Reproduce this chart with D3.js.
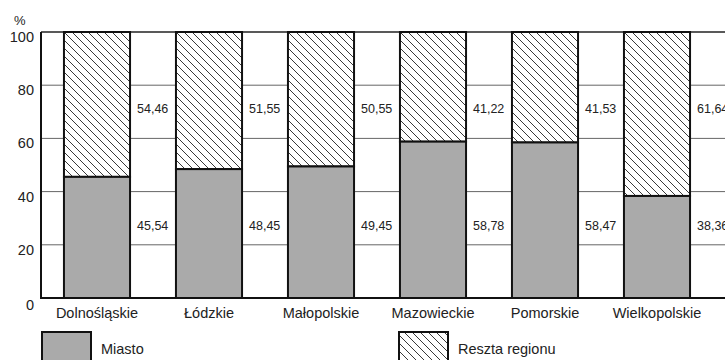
<!DOCTYPE html>
<html><head><meta charset="utf-8">
<script src="https://cdn.jsdelivr.net/npm/d3@7/dist/d3.min.js"></script>
<style>
html,body{margin:0;padding:0;background:#fff;}
svg{display:block;font-family:"Liberation Sans",Arial,sans-serif;}
</style></head>
<body>
<svg id="chart" width="725" height="360"></svg>
<script>
const categories = ["Dolnośląskie","Łódzkie","Małopolskie","Mazowieckie","Pomorskie","Wielkopolskie"];
const miasto = [45.54, 48.45, 49.45, 58.78, 58.47, 38.36];
const reszta = [54.46, 51.55, 50.55, 41.22, 41.53, 61.64];
const seriesNames = ["Miasto", "Reszta regionu"];
const yTicks = [0, 20, 40, 60, 80, 100];

const fmt = v => v.toFixed(2).replace(".", ",");

const svg = d3.select("#chart");
const x0 = 41, yTop = 32, yBot = 298;
const y = d3.scaleLinear().domain([0, 100]).range([yBot, yTop]);
const x = d3.scaleBand().domain(categories).range([x0, x0 + 6 * 112])
  .paddingInner(0.41).paddingOuter(0.205);

const defs = svg.append("defs");
const pat = defs.append("pattern").attr("id", "hatch")
  .attr("patternUnits", "userSpaceOnUse").attr("width", 8).attr("height", 8);
pat.append("rect").attr("width", 8).attr("height", 8).attr("fill", "#fff");
pat.append("path").attr("d", "M-2,-2 L10,10 M-2,6 L2,10 M6,-2 L10,2")
  .attr("stroke", "#222").attr("stroke-width", 0.9).attr("fill", "none");

// gridlines
svg.append("g").selectAll("line").data(yTicks.filter(t => t > 0 && t < 100)).join("line")
  .attr("x1", x0).attr("x2", 725).attr("y1", d => y(d)).attr("y2", d => y(d))
  .attr("stroke", "#666").attr("stroke-width", 1);
svg.append("line").attr("x1", x0).attr("x2", 725).attr("y1", y(100)).attr("y2", y(100))
  .attr("stroke", "#222").attr("stroke-width", 1.5);

// y axis labels
svg.append("g").selectAll("text").data(yTicks).join("text")
  .attr("x", 34).attr("y", d => y(d) + (d === 0 ? 12 : 10)).attr("text-anchor", "end")
  .attr("font-size", 14.5).attr("fill", "#222").text(d => d);
svg.append("text").attr("x", 14).attr("y", 25).attr("font-size", 13).attr("fill", "#222").text("%");

// bars
const g = svg.append("g");
categories.forEach((c, i) => {
  g.append("rect").attr("x", x(c)).attr("width", x.bandwidth())
    .attr("y", y(miasto[i] + reszta[i])).attr("height", y(miasto[i]) - y(miasto[i] + reszta[i]))
    .attr("fill", "url(#hatch)").attr("stroke", "#111").attr("stroke-width", 2);
  g.append("rect").attr("x", x(c)).attr("width", x.bandwidth())
    .attr("y", y(miasto[i])).attr("height", y(0) - y(miasto[i]))
    .attr("fill", "#aaaaaa").attr("stroke", "#111").attr("stroke-width", 2);
  g.append("text").attr("x", x(c) + x.bandwidth() + 7).attr("y", y(70) + 1.5)
    .attr("font-size", 12.5).attr("fill", "#222").text(fmt(reszta[i]));
  g.append("text").attr("x", x(c) + x.bandwidth() + 7).attr("y", y(26) + 1)
    .attr("font-size", 12.5).attr("fill", "#222").text(fmt(miasto[i]));
  g.append("text").attr("x", x(c) + x.bandwidth() / 2).attr("y", 318)
    .attr("text-anchor", "middle").attr("font-size", 14.5).attr("fill", "#222").text(c);
});

// axes lines
svg.append("line").attr("x1", x0).attr("x2", x0).attr("y1", yTop).attr("y2", yBot)
  .attr("stroke", "#111").attr("stroke-width", 2);
svg.append("line").attr("x1", x0 - 1).attr("x2", 725).attr("y1", yBot).attr("y2", yBot)
  .attr("stroke", "#111").attr("stroke-width", 2);

// legend
const leg = [{x: 42, fill: "#aaaaaa", name: seriesNames[0]}, {x: 399, fill: "url(#hatch)", name: seriesNames[1]}];
leg.forEach(l => {
  svg.append("rect").attr("x", l.x).attr("y", 332).attr("width", 49).attr("height", 40)
    .attr("fill", l.fill).attr("stroke", "#111").attr("stroke-width", 2);
  svg.append("text").attr("x", l.x + 59).attr("y", 354).attr("font-size", 14.5)
    .attr("fill", "#222").text(l.name);
});
</script>
</body></html>
